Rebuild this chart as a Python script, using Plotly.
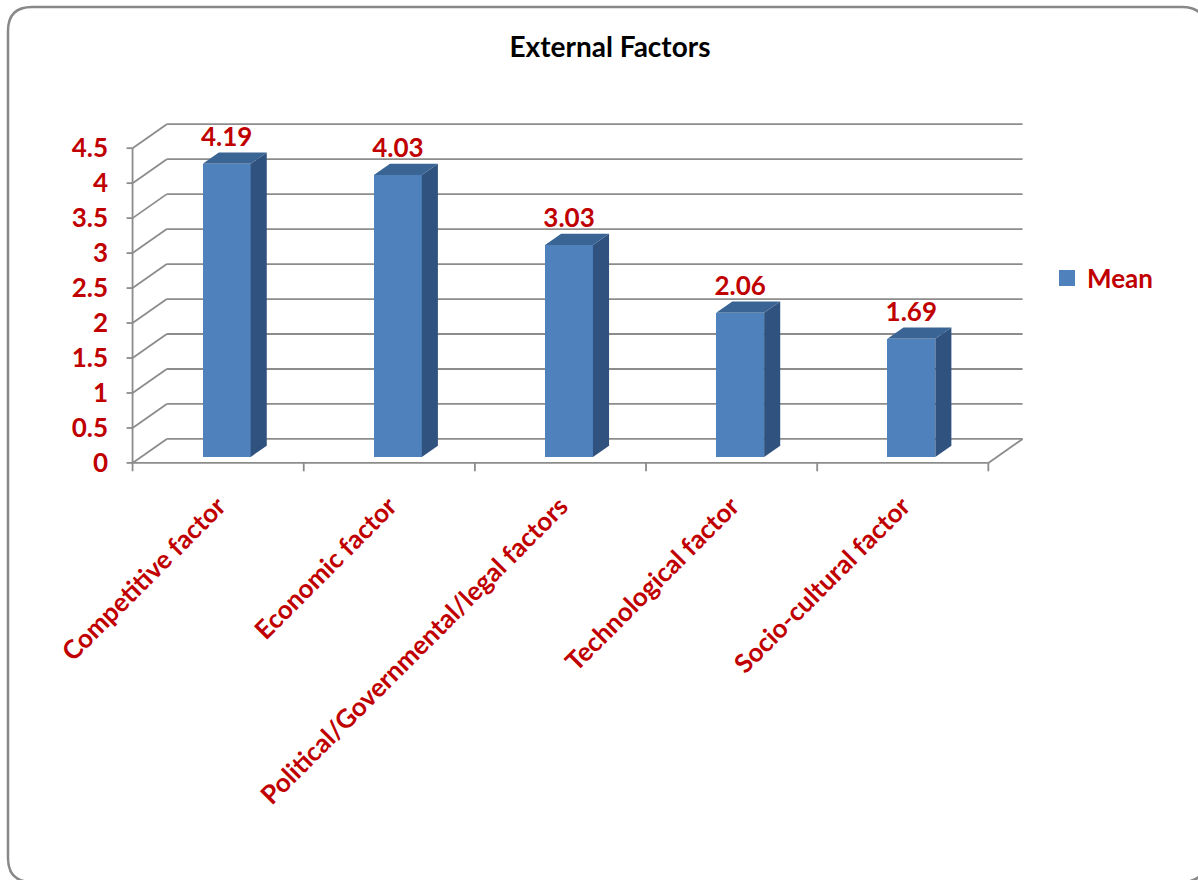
import plotly.graph_objects as go

# ---- data ----
categories = ["Competitive factor", "Economic factor", "Political/Governmental/legal factors",
              "Technological factor", "Socio-cultural factor"]
mean_values = [4.19, 4.03, 3.03, 2.06, 1.69]
y_ticks = [0, 0.5, 1, 1.5, 2, 2.5, 3, 3.5, 4, 4.5]
y_tick_labels = ["0", "0.5", "1", "1.5", "2", "2.5", "3", "3.5", "4", "4.5"]
series_name = "Mean"
title_text = "External Factors"

# ---- style / geometry ----
RED = "#C00000"
FRONT = "#4F81BD"
SIDE = "#30527E"
TOP = "#3A6494"
GRID = "#8C8C8C"
FONT = "Lato"
W, H = 1198, 880
L, R, T, B = 124, 172, 123, 408
XR = [-0.05, 5.22]
YR = [-0.13, 4.86]
DX, DY = 0.2, 0.343          # depth offset of the back wall (data units)
D0, D1 = 0.25, 0.72          # bar depth span (fraction of full depth)
BW = 0.28                    # bar width
N = len(categories)

fig = go.Figure()
shapes = []

def seg(x0, y0, x1, y1, color=GRID, width=1.8):
    shapes.append(dict(type="line", xref="x", yref="y", x0=x0, y0=y0, x1=x1, y1=y1,
                       line=dict(color=color, width=width), layer="below"))

# gridlines on side and back wall
for v in y_ticks:
    seg(0, v, DX, v + DY)
    seg(DX, v + DY, N + DX, v + DY)
    seg(-0.035, v, 0, v)           # y tick marks
# floor & axes
seg(0, 0, N, 0)
seg(N, 0, N + DX, DY)
seg(0, 0, 0, max(y_ticks))
for k in range(N + 1):
    seg(k, 0, k, -0.12)

# bars (front faces)
xc = [i + 0.5 + D0 * DX for i in range(N)]
fig.add_trace(go.Bar(x=xc, y=mean_values, base=D0 * DY, width=BW,
                     marker=dict(color=FRONT, line=dict(width=0)),
                     name=series_name, showlegend=False))

# side & top faces
ddx, ddy = (D1 - D0) * DX, (D1 - D0) * DY
sx, sy, tx, ty = [], [], [], []
for c, v in zip(xc, mean_values):
    xl, xr = c - BW / 2, c + BW / 2
    b0, top = D0 * DY, v + D0 * DY
    sx += [xr, xr + ddx, xr + ddx, xr, xr, None]
    sy += [b0, b0 + ddy, top + ddy, top, b0, None]
    tx += [xl, xr, xr + ddx, xl + ddx, xl, None]
    ty += [top, top, top + ddy, top + ddy, top, None]
fig.add_trace(go.Scatter(x=sx, y=sy, fill="toself", fillcolor=SIDE, mode="lines",
                         line=dict(width=0, color=SIDE), showlegend=False, hoverinfo="skip"))
fig.add_trace(go.Scatter(x=tx, y=ty, fill="toself", fillcolor=TOP, mode="lines",
                         line=dict(width=0, color=TOP), showlegend=False, hoverinfo="skip"))

# value labels
fig.add_trace(go.Scatter(x=xc, y=[v + D1 * DY for v in mean_values], mode="text",
                         text=[f"{v:.2f}" for v in mean_values], textposition="top center",
                         textfont=dict(family=FONT, size=26, color=RED, weight="bold"),
                         showlegend=False, hoverinfo="skip", cliponaxis=False))

# legend entry (square swatch)
fig.add_trace(go.Scatter(x=[None], y=[None], mode="markers", name=series_name,
                         marker=dict(symbol="square", size=16, color=FRONT),
                         showlegend=True))

# outer rounded border (pixel -> paper)
PW, PH = W - L - R, H - T - B
def px(x): return (x - L) / PW
def py(y): return (H - B - y) / PH
x0, y0, x1, y1, r = 8, 7, 1206, 882, 24
path = (f"M {px(x0 + r)},{py(y0)} L {px(x1 - r)},{py(y0)} Q {px(x1)},{py(y0)} {px(x1)},{py(y0 + r)} "
        f"L {px(x1)},{py(y1 - r)} Q {px(x1)},{py(y1)} {px(x1 - r)},{py(y1)} "
        f"L {px(x0 + r)},{py(y1)} Q {px(x0)},{py(y1)} {px(x0)},{py(y1 - r)} "
        f"L {px(x0)},{py(y0 + r)} Q {px(x0)},{py(y0)} {px(x0 + r)},{py(y0)} Z")
shapes.append(dict(type="path", xref="paper", yref="paper", path=path,
                   line=dict(color="#888888", width=2.5), layer="above"))

fig.update_layout(
    width=W, height=H, autosize=False,
    margin=dict(l=L, r=R, t=T, b=B, pad=0),
    paper_bgcolor="white", plot_bgcolor="white",
    shapes=shapes,
    title=dict(text=title_text, x=610 / W, xanchor="center", y=1 - 47 / H, yanchor="middle",
               xref="container", yref="container",
               font=dict(family=FONT, size=28, color="black", weight="bold")),
    xaxis=dict(range=XR, showgrid=False, zeroline=False, showline=False,
               tickvals=[i + 0.5 for i in range(N)], ticktext=categories, tickangle=-45,
               ticks="", ticklabelstandoff=13,
               tickfont=dict(family=FONT, size=26, color=RED, weight="bold")),
    yaxis=dict(range=YR, showgrid=False, zeroline=False, showline=False,
               tickvals=y_ticks, ticktext=y_tick_labels, ticks="", ticklabelstandoff=15,
               tickfont=dict(family=FONT, size=26, color=RED, weight="bold")),
    legend=dict(xref="container", yref="container", x=1047 / W, y=1 - 278 / H,
                xanchor="left", yanchor="middle", bgcolor="rgba(0,0,0,0)",
                font=dict(family=FONT, size=26, color=RED, weight="bold"),
                itemwidth=30),
    bargap=0, showlegend=True,
)

fig.write_html("out.html")
